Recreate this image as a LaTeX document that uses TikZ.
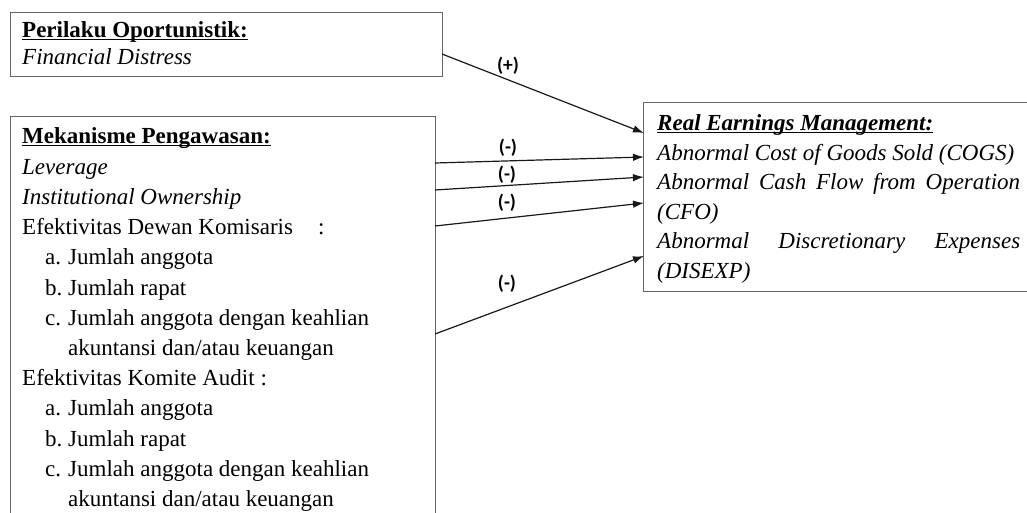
\documentclass[tikz,border=0pt]{standalone}
\usepackage{fontspec}
\setmainfont{Liberation Serif}
\newfontfamily\signfont{Carlito}
\usetikzlibrary{arrows.meta}

% underline kept close to the baseline, through the descenders
\newcommand{\ulhead}[1]{\underline{\smash{#1}}}
% one item of a list inside the box
\newcommand{\butir}[2]{\makebox[23pt][l]{#1}#2}

\begin{document}
\begin{tikzpicture}[
  x=1pt, y=-1pt,
  box/.style={draw=black!60, line width=1.4pt, inner sep=0pt, anchor=north west},
  ln/.style={anchor=base west, inner sep=0pt, font=\fontsize{23}{29}\selectfont},
  sgn/.style={inner sep=0pt, font=\signfont\bfseries\fontsize{19.5}{22}\selectfont},
  arr/.style={line width=1.2pt, draw=black!90, -{Latex[length=11pt,width=7.5pt]}}
]
\clip (0,0) rectangle (1027,513);

% --- Boxes ---
\node[box, minimum width=432pt, minimum height=64pt]  (pk)  at (10,12)  {};
\node[box, minimum width=425pt, minimum height=430pt] (mp)  at (10,116) {};
\node[box, minimum width=400pt, minimum height=189pt] (rem) at (643,102) {};

% --- Perilaku Oportunistik ---
\node[ln] (pk1) at (22,38) {\ulhead{\textbf{Perilaku Oportunistik:}}};
\node[ln] (pk2) at (22,65) {\textit{Financial Distress}};

% --- Mekanisme Pengawasan ---
\node[ln] (mp1)  at (22,144)   {\ulhead{\textbf{Mekanisme Pengawasan:}}};
\node[ln] (mp2)  at (22,174.2) {\textit{Leverage}};
\node[ln] (mp3)  at (22,204.4) {\textit{Institutional Ownership}};
\node[ln] (mp4)  at (22,234.6) {\makebox[296pt][l]{Efektivitas Dewan Komisaris}:};
\node[ln] (mp5)  at (45,264.8) {\butir{a.}{Jumlah anggota}};
\node[ln] (mp6)  at (45,295)   {\butir{b.}{Jumlah rapat}};
\node[ln] (mp7)  at (45,325.2) {\butir{c.}{Jumlah anggota dengan keahlian}};
\node[ln] (mp8)  at (68,355.4) {akuntansi dan/atau keuangan};
\node[ln] (mp9)  at (22,385.6) {Efektivitas Komite Audit :};
\node[ln] (mp10) at (45,415.8) {\butir{a.}{Jumlah anggota}};
\node[ln] (mp11) at (45,446)   {\butir{b.}{Jumlah rapat}};
\node[ln] (mp12) at (45,476.2) {\butir{c.}{Jumlah anggota dengan keahlian}};
\node[ln] (mp13) at (68,506.4) {akuntansi dan/atau keuangan};

% --- Real Earnings Management ---
\node[ln] (rem1) at (657,131)   {\ulhead{\textbf{\textit{Real Earnings Management:}}}};
\node[ln] (rem2) at (657,160.4) {\textit{Abnormal Cost of Goods Sold (COGS)}};
\node[ln] (rem3) at (657,189.8) {\makebox[363pt][s]{\textit{Abnormal Cash Flow from Operation}}};
\node[ln] (rem4) at (657,219.2) {\textit{(CFO)}};
\node[ln] (rem5) at (657,248.6) {\makebox[363pt][s]{\textit{Abnormal Discretionary Expenses}}};
\node[ln] (rem6) at (657,278)   {\textit{(DISEXP)}};

% --- Arrow ends ---
\coordinate (s1) at (442,54);
\coordinate (s2) at (435,163);
\coordinate (s3) at (435,190);
\coordinate (s4) at (435,226);
\coordinate (s5) at (435,334);
\coordinate (t1) at (644,133);
\coordinate (t2) at (644,157);
\coordinate (t3) at (644,177);
\coordinate (t4) at (644,203);
\coordinate (t5) at (644,256);

\draw[arr] (s1) -- (t1);
\draw[arr] (s2) -- (t2);
\draw[arr] (s3) -- (t3);
\draw[arr] (s4) -- (t4);
\draw[arr] (s5) -- (t5);

% --- Signs ---
\node[sgn] (g1) at (508,65.5) {(+)};
\node[sgn] (g2) at (508,147.5) {(-)};
\node[sgn] (g3) at (507,174.5) {(-)};
\node[sgn] (g4) at (507,202.5) {(-)};
\node[sgn] (g5) at (507,284)   {(-)};

\end{tikzpicture}
\end{document}
